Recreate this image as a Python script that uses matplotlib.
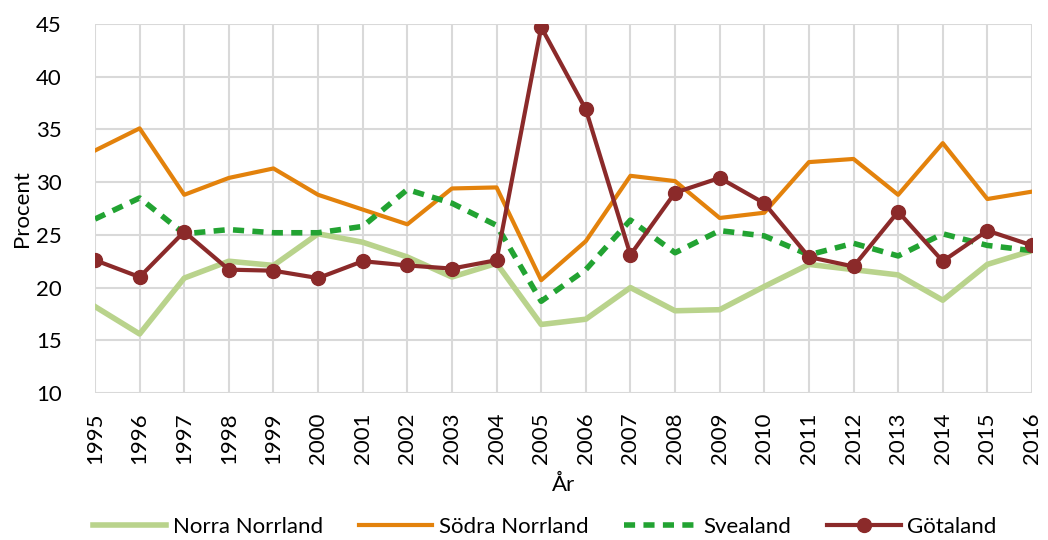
import numpy as np
import matplotlib
matplotlib.use("Agg")
import matplotlib.pyplot as plt

years = list(range(1995, 2017))

norra_norrland = [18.2, 15.6, 20.9, 22.5, 22.1, 25.1, 24.3, 22.9, 21.0, 22.3, 16.5,
                  17.0, 20.0, 17.8, 17.9, 20.1, 22.2, 21.7, 21.2, 18.8, 22.2, 23.5]
sodra_norrland = [33.0, 35.1, 28.8, 30.4, 31.3, 28.8, 27.4, 26.0, 29.4, 29.5, 20.7,
                  24.4, 30.6, 30.1, 26.6, 27.1, 31.9, 32.2, 28.8, 33.7, 28.4, 29.1]
svealand = [26.5, 28.5, 25.1, 25.5, 25.2, 25.2, 25.8, 29.3, 28.0, 25.9, 18.7,
            21.7, 26.4, 23.3, 25.4, 24.9, 23.1, 24.2, 23.0, 25.1, 24.0, 23.5]
gotaland = [22.6, 21.0, 25.3, 21.7, 21.6, 20.9, 22.5, 22.1, 21.8, 22.6, 44.7,
            36.9, 23.1, 29.0, 30.4, 28.0, 22.9, 22.0, 27.2, 22.5, 25.4, 24.0]

plt.rcParams['font.family'] = ['Lato', 'DejaVu Sans']

fig = plt.figure(figsize=(10.48, 5.4), dpi=100)
ax = fig.add_axes([95/1048, 1 - 393/540, (1032-95)/1048, (393-24)/540])

ax.plot(years, norra_norrland, color='#B9D38C', lw=4, label='Norra Norrland', zorder=2)
ax.plot(years, sodra_norrland, color='#E3820C', lw=3, label='Södra Norrland', zorder=3)
ax.plot(years, svealand, color='#22A332', lw=4, ls=(0, (2, 1.5)), label='Svealand', zorder=4)
ax.plot(years, gotaland, color='#8B2A2A', lw=3, marker='o', ms=10, label='Götaland', zorder=5)

ax.set_xlim(1995, 2016)
ax.set_ylim(10, 45)
ax.set_yticks(range(10, 46, 5))
ax.set_xticks(years)
ax.set_xticklabels([str(y) for y in years], rotation=90)
ax.tick_params(axis='both', labelsize=16, length=0, colors='black')
ax.tick_params(axis='y', pad=24)
ax.tick_params(axis='x', pad=14)
ax.grid(True, color='#D9D9D9', lw=1.5)
ax.set_axisbelow(True)
for s in ax.spines.values():
    s.set_visible(False)

ax.set_ylabel('Procent', fontsize=16, labelpad=3)
ax.set_xlabel('År', fontsize=16, labelpad=8)

ax.legend(loc='center', bbox_to_anchor=(0.48, -0.363), ncol=4, frameon=False,
          fontsize=16, handlelength=3.3, columnspacing=1.6, handletextpad=0.3)

fig.savefig('out.png', dpi=100)
